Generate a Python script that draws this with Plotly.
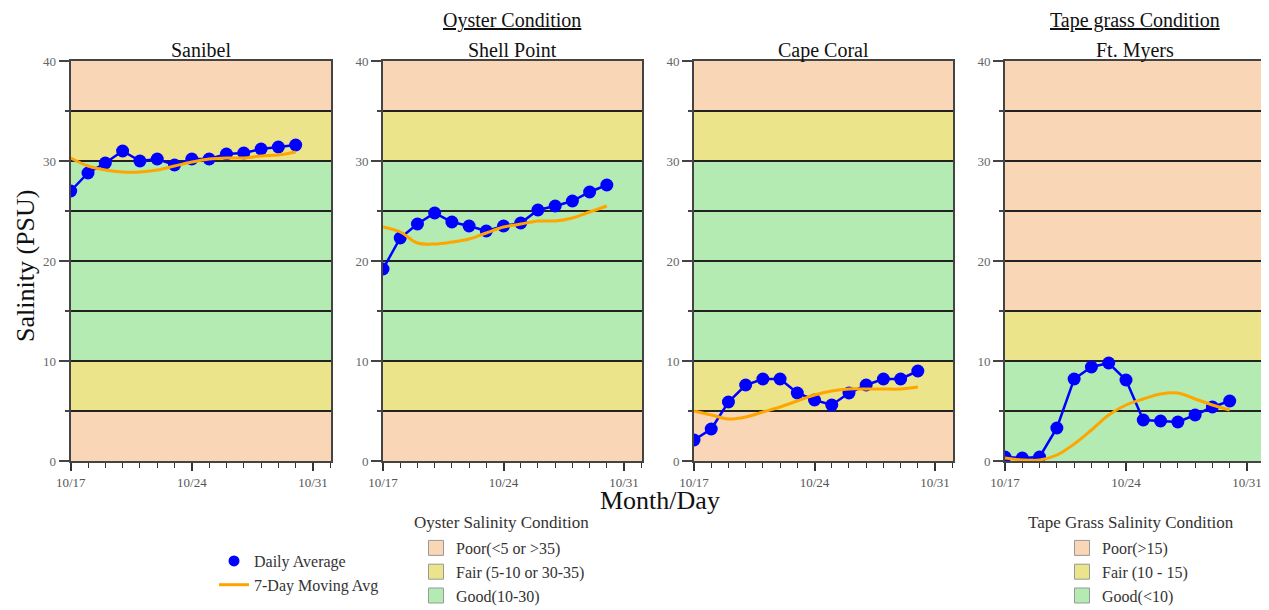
import plotly.graph_objects as go

# ---------------- data ----------------
dates = ["2024-10-17", "2024-10-18", "2024-10-19", "2024-10-20", "2024-10-21",
         "2024-10-22", "2024-10-23", "2024-10-24", "2024-10-25", "2024-10-26",
         "2024-10-27", "2024-10-28", "2024-10-29", "2024-10-30"]

sites = ["Sanibel", "Shell Point", "Cape Coral", "Ft. Myers"]

daily_sanibel = [27.0, 28.8, 29.8, 31.0, 30.0, 30.2, 29.6, 30.2, 30.2, 30.7, 30.8, 31.2, 31.4, 31.6]
mavg_sanibel = [30.3, 29.5, 29.1, 28.9, 28.9, 29.1, 29.5, 29.9, 30.2, 30.3, 30.3, 30.5, 30.6, 30.9]

daily_shell = [19.2, 22.3, 23.7, 24.8, 23.9, 23.5, 23.0, 23.5, 23.8, 25.1, 25.5, 26.0, 26.9, 27.6]
mavg_shell = [23.4, 22.9, 21.8, 21.7, 21.9, 22.2, 22.8, 23.4, 23.7, 24.0, 24.0, 24.3, 24.9, 25.5]

daily_cape = [2.1, 3.2, 5.9, 7.6, 8.2, 8.2, 6.8, 6.1, 5.6, 6.8, 7.6, 8.2, 8.2, 9.0]
mavg_cape = [5.0, 4.6, 4.2, 4.4, 4.9, 5.4, 6.0, 6.6, 7.0, 7.2, 7.2, 7.2, 7.2, 7.4]

daily_ftmyers = [0.4, 0.3, 0.4, 3.3, 8.2, 9.4, 9.8, 8.1, 4.1, 4.0, 3.9, 4.6, 5.4, 6.0]
mavg_ftmyers = [0.3, 0.1, 0.1, 0.6, 1.7, 3.1, 4.6, 5.6, 6.2, 6.7, 6.8, 6.2, 5.6, 5.1]

daily_values = [daily_sanibel, daily_shell, daily_cape, daily_ftmyers]
mavg_values = [mavg_sanibel, mavg_shell, mavg_cape, mavg_ftmyers]

# condition bands (low, high, class)
oyster_bands = [(0, 5, "Poor"), (5, 10, "Fair"), (10, 30, "Good"), (30, 35, "Fair"), (35, 40, "Poor")]
tape_bands = [(0, 10, "Good"), (10, 15, "Fair"), (15, 40, "Poor")]
site_bands = [oyster_bands, oyster_bands, oyster_bands, tape_bands]

oyster_labels = ["Poor(<5 or >35)", "Fair (5-10 or 30-35)", "Good(10-30)"]
tape_labels = ["Poor(>15)", "Fair (10 - 15)", "Good(<10)"]
classes = ["Poor", "Fair", "Good"]

# ---------------- styling ----------------
FONT = "Liberation Serif"
band_colors = {"Poor": "#F9D6B6", "Fair": "#ECE48B", "Good": "#B3EBB3"}
BLUE = "#0000FF"
ORANGE = "#FFA500"
OFF = 8                       # page body margin
W, H = 1269 - OFF, 610 - OFF  # figure size inside the viewport


def px(xp):
    return (xp - OFF) / W


def py(yp):
    return 1 - (yp - OFF) / H


x_px = [(70.7, 331), (383, 642), (694, 953), (1005, 1265)]
y_dom = [py(461), py(61)]

fig = go.Figure()
layout = dict(
    width=W, height=H,
    margin=dict(l=0, r=0, t=0, b=0, autoexpand=False),
    paper_bgcolor="white", plot_bgcolor="white",
    font=dict(family=FONT, color="#222"),
    shapes=[], annotations=[],
)

for i, site in enumerate(sites):
    n = i + 1
    xa = "x" if n == 1 else f"x{n}"
    ya = "y" if n == 1 else f"y{n}"
    xkey = "xaxis" if n == 1 else f"xaxis{n}"
    ykey = "yaxis" if n == 1 else f"yaxis{n}"
    layout[xkey] = dict(
        domain=[px(x_px[i][0]), px(x_px[i][1])], anchor=ya, type="date",
        range=["2024-10-17", "2024-11-01 01:00"],
        tick0="2024-10-17", dtick=7 * 86400000, tickformat="%m/%d",
        ticks="outside", ticklen=8, tickwidth=1.5, tickcolor="#333",
        tickfont=dict(family=FONT, size=13, color="#555"),
        minor=dict(dtick=86400000, ticks="outside", ticklen=5, tickwidth=1, tickcolor="#333"),
        showgrid=False, zeroline=False, automargin=False,
        showline=True, linecolor="#444", linewidth=2, mirror=True,
    )
    layout[ykey] = dict(
        domain=y_dom, anchor=xa, range=[0, 40],
        tickvals=[0, 10, 20, 30, 40],
        ticks="outside", ticklen=10, tickwidth=1.5, tickcolor="#444",
        tickfont=dict(family=FONT, size=13, color="#666"),
        showgrid=True, gridcolor="#222", gridwidth=1.5,
        minor=dict(dtick=5, ticks="outside", ticklen=4, tickcolor="#444",
                   showgrid=True, gridcolor="#222", gridwidth=1.5),
        zeroline=False, automargin=False,
        showline=True, linecolor="#444", linewidth=2, mirror=True,
    )
    for lo, hi, cls in site_bands[i]:
        layout["shapes"].append(dict(
            type="rect", xref=f"{xa} domain", yref=ya, x0=0, x1=1, y0=lo, y1=hi,
            fillcolor=band_colors[cls], line=dict(width=0), layer="below"))
    fig.add_trace(go.Scatter(
        x=dates, y=daily_values[i], xaxis=xa, yaxis=ya, mode="lines+markers",
        line=dict(color=BLUE, width=2.5), marker=dict(color=BLUE, size=13),
        showlegend=False, name="Daily Average"))
    fig.add_trace(go.Scatter(
        x=dates, y=mavg_values[i], xaxis=xa, yaxis=ya, mode="lines",
        line=dict(color=ORANGE, width=3, shape="spline"),
        showlegend=False, name="7-Day Moving Avg"))
    layout["annotations"].append(dict(
        text=site, xref="paper", yref="paper",
        x=px((x_px[i][0] + x_px[i][1]) / 2), y=py(50), xanchor="center", yanchor="middle",
        showarrow=False, font=dict(family=FONT, size=20, color="#111")))


def ann(text, xp, yp, size, angle=0, color="#111"):
    layout["annotations"].append(dict(
        text=text, xref="paper", yref="paper", x=px(xp), y=py(yp),
        xanchor="center", yanchor="middle", textangle=angle,
        showarrow=False, font=dict(family=FONT, size=size, color=color)))


ann("<u>Oyster Condition</u>", 512, 20, 20)
ann("<u>Tape grass Condition</u>", 1135, 20, 20)
ann("Salinity (PSU)", 25, 266, 26, -90)
ann("Month/Day", 660, 500, 26)
ann("Oyster Salinity Condition", 501, 522, 17, color="#333")
ann("Tape Grass Salinity Condition", 1131, 522, 17, color="#333")

# legend entries
fig.add_trace(go.Scatter(x=[None], y=[None], mode="markers", marker=dict(color=BLUE, size=11),
                         name="Daily Average", legend="legend"))
fig.add_trace(go.Scatter(x=[None], y=[None], mode="lines", line=dict(color=ORANGE, width=3),
                         name="7-Day Moving Avg", legend="legend"))
for cls, lab in zip(classes, oyster_labels):
    fig.add_trace(go.Scatter(x=[None], y=[None], mode="markers", name=lab, legend="legend2",
                             marker=dict(symbol="square", size=15, color=band_colors[cls],
                                         line=dict(color="#999", width=1))))
for cls, lab in zip(classes, tape_labels):
    fig.add_trace(go.Scatter(x=[None], y=[None], mode="markers", name=lab, legend="legend3",
                             marker=dict(symbol="square", size=15, color=band_colors[cls],
                                         line=dict(color="#999", width=1))))

leg_font = dict(family=FONT, size=16, color="#333")
layout["legend"] = dict(x=px(214), y=py(544), xanchor="left", yanchor="top",
                        font=leg_font, bgcolor="rgba(0,0,0,0)", tracegroupgap=0)
layout["legend2"] = dict(x=px(416), y=py(531), xanchor="left", yanchor="top",
                         font=leg_font, bgcolor="rgba(0,0,0,0)")
layout["legend3"] = dict(x=px(1062), y=py(531), xanchor="left", yanchor="top",
                         font=leg_font, bgcolor="rgba(0,0,0,0)")

fig.update_layout(**layout)
fig.write_html("out.html")
